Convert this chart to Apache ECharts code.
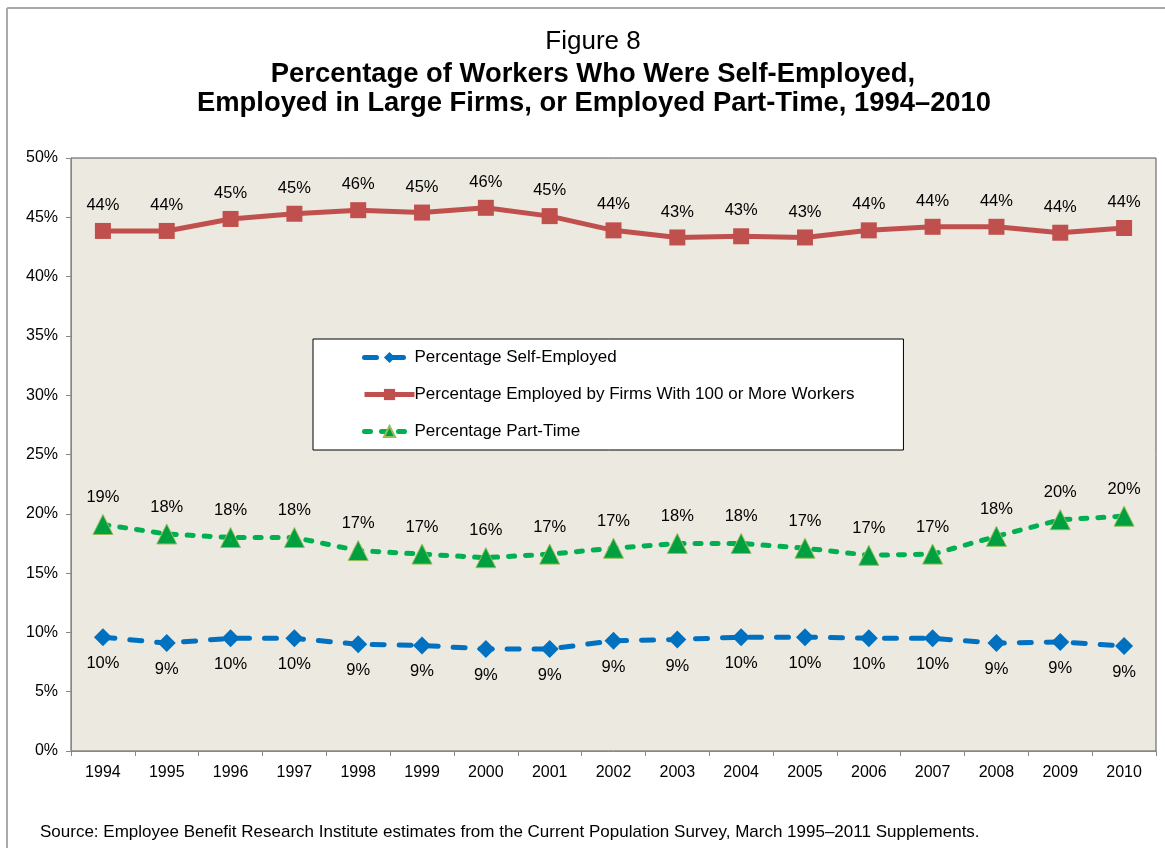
<!DOCTYPE html>
<html><head><meta charset="utf-8">
<script src="https://cdn.jsdelivr.net/npm/echarts@6/dist/echarts.min.js"></script>
<style>html,body{margin:0;padding:0;background:#fff}#c{width:1165px;height:848px}</style>
</head><body><div id="c"></div>
<script>
const years = ['1994','1995','1996','1997','1998','1999','2000','2001','2002','2003','2004','2005','2006','2007','2008','2009','2010'];
const selfEmployed = [9.6,9.1,9.5,9.5,9.0,8.9,8.6,8.6,9.3,9.4,9.6,9.6,9.5,9.5,9.1,9.2,8.85];
const largeFirms = [43.85,43.85,44.86,45.3,45.6,45.4,45.8,45.1,43.9,43.3,43.4,43.3,43.9,44.2,44.2,43.7,44.1];
const partTime = [19.1,18.3,18.0,18.0,16.9,16.6,16.3,16.6,17.1,17.5,17.5,17.1,16.5,16.6,18.1,19.5,19.8];
const yTicks = [0,5,10,15,20,25,30,35,40,45,50];

const FONT = 'Liberation Sans, Arial, sans-serif';
const chart = echarts.init(document.getElementById('c'));
const lbl = (pos, dist) => ({show:true, position:pos, distance:dist, color:'#000', fontSize:16.5, fontFamily:FONT,
  formatter: p => Math.round(p.value) + '%'});
chart.setOption({
  animation:false,
  backgroundColor:'#fff',
  title:[
    {text:'Source: Employee Benefit Research Institute estimates from the Current Population Survey, March 1995\u20132011 Supplements.', left:35, top:819,
     textStyle:{fontFamily:FONT, fontWeight:'normal', fontSize:17, color:'#000'}}
  ],
  graphic:[
    {type:'line', shape:{x1:7,y1:8,x2:1165,y2:8}, style:{stroke:'#aaa', lineWidth:2}},
    {type:'line', shape:{x1:7,y1:8,x2:7,y2:848}, style:{stroke:'#aaa', lineWidth:2}},
    {type:'text', x:593, y:42, style:{text:'Figure 8', fill:'#000', font:'normal 26px Liberation Sans, Arial, sans-serif', align:'center', verticalAlign:'middle'}},
    {type:'text', x:593, y:74, style:{text:'Percentage of Workers Who Were Self-Employed,', fill:'#000', font:'bold 27.4px Liberation Sans, Arial, sans-serif', align:'center', verticalAlign:'middle'}},
    {type:'text', x:594, y:103, style:{text:'Employed in Large Firms, or Employed Part-Time, 1994\u20132010', fill:'#000', font:'bold 27.4px Liberation Sans, Arial, sans-serif', align:'center', verticalAlign:'middle'}}
  ],
  grid:{left:71, right:9, top:158, bottom:97, show:true, backgroundColor:'#ECE9E0', borderColor:'#555', borderWidth:1},
  legend:{
    orient:'vertical', left:313, top:339, backgroundColor:'#fff', borderColor:'#000', borderWidth:1,
    padding:[10,49,10,49], itemGap:20, itemWidth:50, itemHeight:14,
    lineStyle:{width:5},
    textStyle:{fontFamily:FONT, fontSize:17, color:'#000', padding:[0,0,0,-5]},
    data:['Percentage Self-Employed','Percentage Employed by Firms With 100 or More Workers','Percentage Part-Time']
  },
  xAxis:{type:'category', data:years, boundaryGap:true,
    axisLine:{lineStyle:{color:'#888'}}, axisTick:{show:true, length:5, lineStyle:{color:'#888'}},
    axisLabel:{color:'#000', fontSize:16, fontFamily:FONT, margin:14}},
  yAxis:{type:'value', min:0, max:50, interval:5,
    axisLine:{show:true, lineStyle:{color:'#888'}}, axisTick:{show:true, length:5, lineStyle:{color:'#888'}},
    splitLine:{show:false},
    axisLabel:{color:'#000', fontSize:16, fontFamily:FONT, margin:13, formatter: v => v + '%'}},
  series:[
    {name:'Percentage Self-Employed', type:'line', data:selfEmployed, symbol:'diamond', symbolSize:18,
     itemStyle:{color:'#0070C0'}, lineStyle:{color:'#0070C0', width:5, type:[12,15], cap:'round'},
     label:lbl('bottom',9)},
    {name:'Percentage Employed by Firms With 100 or More Workers', type:'line', data:largeFirms, symbol:'rect', symbolSize:16,
     itemStyle:{color:'#C0504D'}, lineStyle:{color:'#C0504D', width:5},
     label:lbl('top',9)},
    {name:'Percentage Part-Time', type:'line', data:partTime, symbol:'triangle', symbolSize:20,
     itemStyle:{color:'#00A040', borderColor:'#9BBB59', borderWidth:1}, lineStyle:{color:'#00B050', width:5, type:[6,11], cap:'round'},
     label:lbl('top',8)}
  ]
});
</script></body></html>
